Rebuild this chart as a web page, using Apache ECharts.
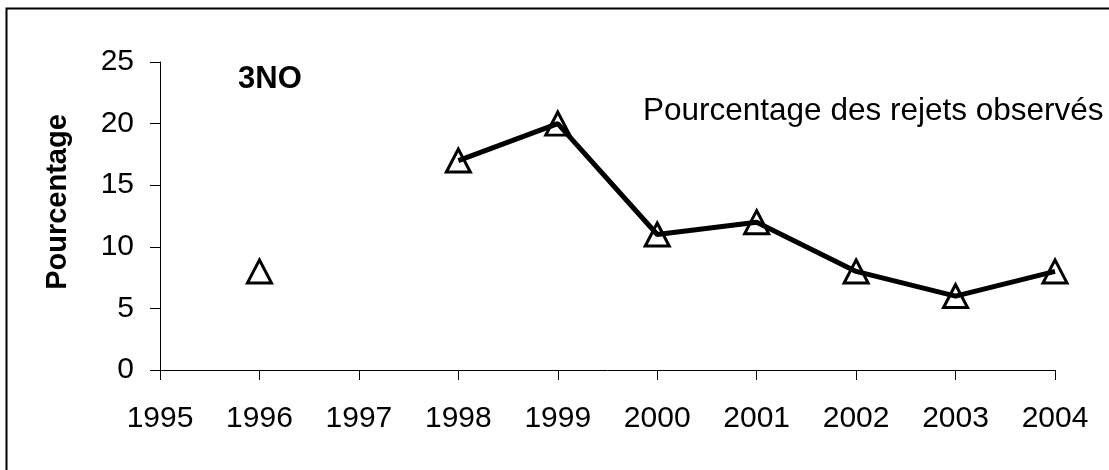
<!DOCTYPE html>
<html style="height: 100%">

<head>
    <meta charset="utf-8">
</head>

<body style="height: 100%; margin: 0; background: #fff">
    <div id="container" style="width: 1109px; height: 470px"></div>

    <script src="https://cdn.jsdelivr.net/npm/echarts@6/dist/echarts.min.js"></script>

    <script type="text/javascript">
        // données (1997 : pas de valeur)
        var years = [1996, 1997, 1998, 1999, 2000, 2001, 2002, 2003, 2004];
        var rejets = [8, null, 17, 20, 11, 12, 8, 6, 8];
        var yTicks = [0, 5, 10, 15, 20, 25];
        var xTicks = [1995, 1996, 1997, 1998, 1999, 2000, 2001, 2002, 2003, 2004];

        var myChart = echarts.init(document.getElementById('container'));

        var seriesData = years.map(function (y, i) {
            return [y, rejets[i] === null ? '-' : rejets[i]];
        });

        var font = 'Liberation Sans, Arial, sans-serif';

        var option = {
            animation: false,
            backgroundColor: '#fff',
            grid: {
                left: 160,
                right: 54,
                top: 62,
                bottom: 100
            },
            xAxis: {
                type: 'value',
                min: xTicks[0],
                max: xTicks[xTicks.length - 1],
                interval: 1,
                splitLine: { show: false },
                axisLine: { onZero: false, lineStyle: { color: '#000', width: 1 } },
                axisTick: { inside: false, length: 10, lineStyle: { color: '#000' } },
                axisLabel: {
                    color: '#000',
                    fontSize: 30,
                    fontFamily: font,
                    margin: 34,
                    formatter: function (v) { return String(v); }
                }
            },
            yAxis: {
                type: 'value',
                min: yTicks[0],
                max: yTicks[yTicks.length - 1],
                interval: 5,
                splitLine: { show: false },
                axisLine: { show: true, lineStyle: { color: '#000', width: 1 } },
                axisTick: { show: true, length: 10, lineStyle: { color: '#000' } },
                axisLabel: {
                    color: '#000',
                    fontSize: 30,
                    fontFamily: font,
                    margin: 26
                },
                name: 'Pourcentage',
                nameLocation: 'middle',
                nameGap: 88,
                nameTextStyle: {
                    color: '#000',
                    fontSize: 29,
                    fontWeight: 'bold',
                    fontFamily: font,
                    padding: [0, 0, 0, 28]
                }
            },
            graphic: [
                {
                    // cadre : seuls les bords gauche et haut sont visibles
                    type: 'rect',
                    shape: { x: 6.5, y: 8.5, width: 1300, height: 700 },
                    style: { fill: 'none', stroke: '#000', lineWidth: 2 },
                    silent: true
                },
                {
                    type: 'text',
                    left: 238,
                    top: 64,
                    style: {
                        text: '3NO',
                        fill: '#000',
                        font: 'bold 31px ' + font
                    }
                },
                {
                    type: 'text',
                    left: 643,
                    top: 95,
                    style: {
                        text: 'Pourcentage des rejets observés',
                        fill: '#000',
                        font: '31.5px ' + font
                    }
                }
            ],
            series: [
                {
                    name: 'Pourcentage des rejets observés',
                    type: 'line',
                    data: seriesData,
                    connectNulls: false,
                    symbol: 'triangle',
                    symbolSize: [24, 23],
                    showAllSymbol: true,
                    lineStyle: { color: '#000', width: 5 },
                    itemStyle: {
                        color: 'transparent',
                        borderColor: '#000',
                        borderWidth: 3
                    },
                    z: 3
                }
            ]
        };

        myChart.setOption(option);
    </script>
</body>

</html>
